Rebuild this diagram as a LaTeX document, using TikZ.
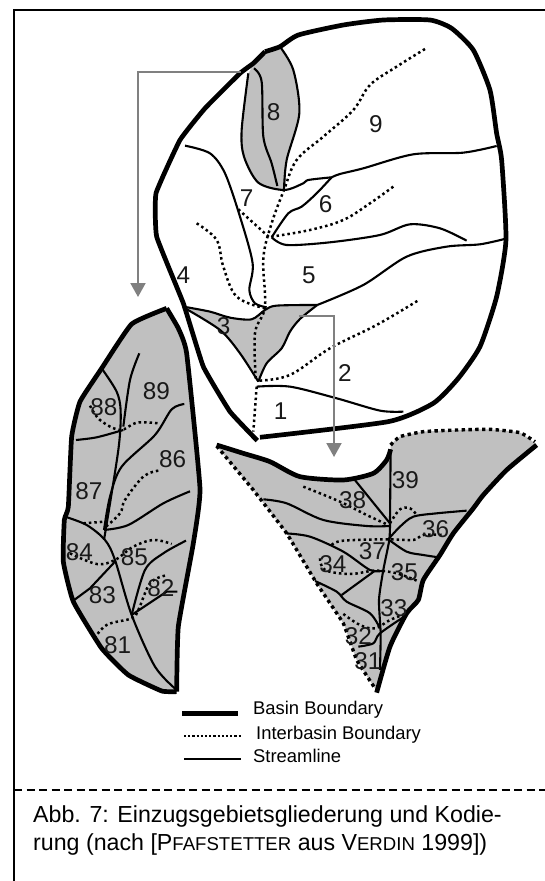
\documentclass[tikz,border=0pt]{standalone}
\usepackage{fontspec}
\setmainfont{Liberation Sans}
\usetikzlibrary{arrows.meta}
\definecolor{basingray}{RGB}{192,192,192}
\definecolor{arrowgray}{RGB}{128,128,128}
\tikzset{
  basinline/.style={line width=4.7pt,line join=round},
  interline/.style={line width=2.5pt,dash pattern=on 2.5pt off 3pt},
  streamline/.style={line width=2.1pt,line join=round},
  boundline/.style={line width=3.4pt,dash pattern=on 3.4pt off 3.4pt},
  basinfill/.style={fill=basingray,draw=none},
  flowarrow/.style={line width=2pt,arrowgray,-{Triangle[length=14pt,width=15pt]}},
  codelabel/.style={font=\fontsize{24.3}{25}\selectfont,text=black!90,inner sep=0pt},
  legendlabel/.style={font=\fontsize{18.4}{20}\selectfont,anchor=base west,inner sep=0pt},
  captionline/.style={font=\fontsize{23.2}{28}\selectfont,anchor=base west,inner sep=0pt},
}
\newcommand{\capsmall}[1]{{\fontsize{18.6}{28}\selectfont #1}}
\begin{document}
\begin{tikzpicture}[x=1pt,y=-1pt]
\useasboundingbox (0,0) rectangle (545,881);
\fill[white] (0,0) rectangle (545,881);

% Frame and caption
\draw[line width=2.4pt] (14,881) -- (14,10) -- (545,10);
\draw[line width=1.2pt,dash pattern=on 8pt off 4.5pt] (14,790) -- (545,790);
\node[captionline] (caption1) at (33,822) {Abb. 7: Einzugsgebietsgliederung und Kodie-};
\node[captionline] (caption2) at (33,850) {rung (nach [P\capsmall{FAFSTETTER} aus V\capsmall{ERDIN} 1999])};

% Main basin
\begin{scope}[shift={(130,20)},x=0.3333pt,y=-0.3333pt]
\fill[basinfill] plot[smooth,tension=0.4] coordinates {(370,135) (405,95) (450,80) (490,150) (508,280) (470,420) (462,510) (385,488) (342,410) (335,330) (355,160)} -- cycle;
\fill[basinfill] (165,862) -- (240,875) -- (300,893) -- (365,898) -- (405,870) -- (440,857) -- (562,855) -- (510,897) -- (480,935) -- (455,985) -- (410,1030) -- (385,1085) -- (330,1000) -- (270,930) -- cycle;
% outline
\draw[basinline] plot[smooth,tension=0.35] coordinates {(390,1252) (775,1205) (910,1150) (985,1075) (1050,980) (1100,830) (1128,660) (1115,420) (1100,340) (1080,210) (1030,90) (965,25) (900,0) (760,0) (640,15) (505,45) (450,80) (405,95)};
\draw[basinline] plot[smooth,tension=0.2] coordinates {(405,95) (370,130) (330,160) (225,265) (150,360) (78,520) (80,650) (160,850) (220,1040) (300,1175) (382,1262)};
% streamlines
\draw[streamline] plot[smooth,tension=0.5] coordinates {(450,80) (490,150) (508,280) (470,420) (462,510)};
\draw[streamline] plot[smooth,tension=0.5] coordinates {(355,160) (335,330) (342,410) (385,488) (462,510) (520,490) (535,480) (605,472)};
\draw[streamline] plot[smooth,tension=0.5] coordinates {(372,145) (395,185) (400,350) (425,430) (442,498)};
\draw[streamline] plot[smooth,tension=0.5] coordinates {(605,472) (630,462) (700,445) (850,403) (1000,398) (1100,378)};
\draw[streamline] plot[smooth,tension=0.5] coordinates {(605,472) (560,520) (515,560) (475,580) (425,652)};
\draw[streamline] plot[smooth,tension=0.5] coordinates {(425,652) (470,675) (600,667) (750,645) (840,613) (930,625) (1010,662)};
\draw[streamline] plot[smooth,tension=0.5] coordinates {(165,377) (240,400) (285,460) (330,590) (368,730) (358,810) (375,850) (410,862)};
\draw[streamline] plot[smooth,tension=0.5] coordinates {(160,860) (240,875) (300,893) (365,898) (405,870) (440,857) (562,855)};
\draw[streamline] plot[smooth,tension=0.5] coordinates {(562,855) (700,795) (830,710) (950,680) (1050,673) (1128,656)};
\draw[streamline] plot[smooth,tension=0.5] coordinates {(160,862) (270,930) (330,1000) (385,1085)};
\draw[streamline] plot[smooth,tension=0.5] coordinates {(562,855) (510,897) (480,935) (455,985) (410,1030) (385,1085)};
\draw[streamline] plot[smooth,tension=0.5] coordinates {(380,1100) (480,1100) (620,1135) (750,1172) (820,1175)};
% interbasin lines
\draw[interline] plot[smooth,tension=0.6] coordinates {(885,87) (800,140) (720,195) (670,270) (580,350) (500,420) (462,510) (425,610) (400,715) (405,860) (375,940) (378,1085)};
\draw[interline] plot[smooth,tension=0.5] coordinates {(380,1100) (370,1235)};
\draw[interline] plot[smooth,tension=0.6] coordinates {(790,500) (720,550) (640,600) (540,630) (425,650)};
\draw[interline] (325,568) -- (418,652);
\draw[interline] plot[smooth,tension=0.6] coordinates {(200,610) (260,660) (280,740) (320,830) (405,865)};
\draw[interline] plot[smooth,tension=0.6] coordinates {(862,843) (740,915) (600,985) (480,1065) (385,1082)};
% basin numbers
\node[codelabel] (n8) at (431,275) {8};
\node[codelabel] (n9) at (738,311) {9};
\node[codelabel] (n7) at (350,534) {7};
\node[codelabel] (n6) at (587,553) {6};
\node[codelabel] (n5) at (537,765) {5};
\node[codelabel] (n4) at (160,765) {4};
\node[codelabel] (n3) at (281,917) {3};
\node[codelabel] (n2) at (645,1058) {2};
\node[codelabel] (n1) at (452,1175) {1};
\end{scope}

% Arrows to the detail basins
\coordinate (from8) at (240.5,71.5);
\coordinate (bend8) at (138,71.5);
\coordinate (to8) at (138,297);
\draw[flowarrow] (from8) -- (bend8) -- (to8);
\coordinate (from3) at (299,316);
\coordinate (bend3) at (334,316);
\coordinate (to3) at (334,457);
\draw[flowarrow] (from3) -- (bend3) -- (to3);

% Detail of basin 8
\begin{scope}[shift={(30,290)},x=0.3333pt,y=-0.3333pt]
\fill[basinfill] plot[smooth,tension=0.25] coordinates {(440,1205) (395,1203) (295,1155) (215,1075) (130,935) (100,815) (103,690) (115,650) (125,440) (150,335) (215,235) (305,102) (410,55)} -- plot[smooth,tension=0.25] coordinates {(410,55) (445,115) (470,190) (510,595) (490,760) (445,1010) (440,1205)} -- cycle;
\draw[basinline] plot[smooth,tension=0.25] coordinates {(440,1205) (395,1203) (295,1155) (215,1075) (130,935) (100,815) (103,690) (115,650) (125,440) (150,335) (215,235) (305,102) (410,55)};
\draw[basinline] plot[smooth,tension=0.25] coordinates {(410,55) (445,115) (470,190) (510,595) (490,760) (445,1010) (440,1205)};
% streamlines
\draw[streamline] plot[smooth,tension=0.5] coordinates {(215,235) (260,305) (272,365) (265,480) (222,750)};
\draw[streamline] plot[smooth,tension=0.5] coordinates {(328,190) (300,270) (280,410)};
\draw[streamline] plot[smooth,tension=0.5] coordinates {(138,450) (200,442) (280,420)};
\draw[streamline] plot[smooth,tension=0.5] coordinates {(463,342) (425,358) (375,435) (275,530) (240,620) (222,720)};
\draw[streamline] plot[smooth,tension=0.5] coordinates {(222,720) (295,705) (400,640) (480,604)};
\draw[streamline] plot[smooth,tension=0.5] coordinates {(105,680) (170,705) (225,750) (255,810) (305,975) (375,1130) (440,1200)};
\draw[streamline] (255,815) -- (180,895) -- (130,932);
\draw[streamline] plot[smooth,tension=0.5] coordinates {(468,752) (400,790) (345,840) (305,975)};
\draw[streamline] (305,975) -- (410,905) -- (442,905);
% interbasin lines
\draw[interline] plot[smooth,tension=0.6] coordinates {(180,347) (210,390) (270,420) (320,398) (385,400)};
\draw[interline] plot[smooth,tension=0.6] coordinates {(385,542) (340,560) (285,630) (270,670) (222,715)};
\draw[interline] (160,700) -- (225,695);
\draw[interline] plot[smooth,tension=0.6] coordinates {(120,790) (200,822) (255,810) (310,770) (370,750) (425,762)};
\draw[interline] plot[smooth,tension=0.6] coordinates {(405,857) (360,880) (325,960) (305,985) (230,1005) (190,1050)};
% basin numbers
\node[codelabel] (n89) at (379,302) {89};
\node[codelabel] (n88) at (222,352) {88};
\node[codelabel] (n86) at (428,506) {86};
\node[codelabel] (n87) at (177,602) {87};
\node[codelabel] (n84) at (148,786) {84};
\node[codelabel] (n85) at (313,800) {85};
\node[codelabel] (n82) at (393,893) {82};
\node[codelabel] (n83) at (217,916) {83};
\node[codelabel] (n81) at (263,1064) {81};
\end{scope}

% Detail of basin 3
\begin{scope}[shift={(210,420)},x=0.3333pt,y=-0.3333pt]
\fill[basinfill] plot[smooth,tension=0.4] coordinates {(20,75) (100,100) (180,125) (270,170) (400,180) (490,160) (530,120) (542,88)} -- plot[smooth,tension=0.3] coordinates {(542,75) (570,50) (640,35) (740,30) (840,28) (930,38) (980,75)} -- plot[smooth,tension=0.35] coordinates {(980,75) (890,150) (820,225) (790,265) (730,340) (690,405) (640,480) (625,540) (590,580) (540,680) (500,818)} -- plot[smooth,tension=0.1] coordinates {(495,805) (440,720) (400,610) (320,490) (230,340) (130,210) (20,78)} -- cycle;
\draw[basinline] plot[smooth,tension=0.4] coordinates {(20,75) (100,100) (180,125) (270,170) (400,180) (490,160) (530,120) (542,88)};
\draw[basinline] plot[smooth,tension=0.35] coordinates {(980,75) (890,150) (820,225) (790,265) (730,340) (690,405) (640,480) (625,540) (590,580) (540,680) (500,818)};
\draw[boundline] plot[smooth,tension=0.3] coordinates {(542,75) (570,50) (640,35) (740,30) (840,28) (930,38) (975,65)};
\draw[boundline] plot[smooth,tension=0.1] coordinates {(20,78) (130,210) (230,340) (320,490) (400,610) (440,720) (495,805)};
% streamlines
\draw[streamline] (542,88) -- (540,310);
\draw[streamline] plot[smooth,tension=0.4] coordinates {(540,310) (538,360) (520,450) (507,540) (512,640) (510,750)};
\draw[streamline] (433,178) -- (540,310);
\draw[streamline] plot[smooth,tension=0.5] coordinates {(160,238) (230,250) (340,300) (470,318) (540,318)};
\draw[streamline] plot[smooth,tension=0.5] coordinates {(225,340) (300,350) (400,395) (480,450) (520,452)};
\draw[streamline] plot[smooth,tension=0.5] coordinates {(535,358) (570,320) (610,290) (680,280) (770,272)};
\draw[streamline] plot[smooth,tension=0.5] coordinates {(535,358) (590,395) (640,405) (685,412)};
\draw[streamline] (495,452) -- (395,525);
\draw[streamline] plot[smooth,tension=0.5] coordinates {(315,483) (380,515) (410,545) (480,580) (510,625)};
\draw[streamline] plot[smooth,tension=0.5] coordinates {(590,585) (510,640) (490,670) (445,680)};
% interbasin lines
\draw[interline] plot[smooth,tension=0.6] coordinates {(280,200) (390,245) (470,285) (535,315)};
\draw[interline] plot[smooth,tension=0.6] coordinates {(540,310) (570,268) (600,265) (620,285)};
\draw[interline] plot[smooth,tension=0.6] coordinates {(365,375) (400,362) (535,358) (610,360) (640,345) (700,345)};
\draw[interline] plot[smooth,tension=0.6] coordinates {(330,415) (345,450) (420,462) (495,452) (560,460) (620,482)};
\draw[interline] plot[smooth,tension=0.6] coordinates {(400,582) (450,615) (495,625) (540,600) (590,580)};
% basin numbers
\node[codelabel] (n39) at (586,180) {39};
\node[codelabel] (n38) at (428,241) {38};
\node[codelabel] (n36) at (677,327) {36};
\node[codelabel] (n37) at (487,392) {37};
\node[codelabel] (n34) at (369,431) {34};
\node[codelabel] (n35) at (583,455) {35};
\node[codelabel] (n33) at (552,565) {33};
\node[codelabel] (n32) at (445,648) {32};
\node[codelabel] (n31) at (474,722) {31};
\end{scope}

% Legend
\coordinate (basinA) at (182,713.5);
\coordinate (basinB) at (238,713.5);
\draw[basinline,line width=5.8pt] (basinA) -- (basinB);
\node[legendlabel] (basinText) at (253,714) {Basin Boundary};
\coordinate (interA) at (184,736);
\coordinate (interB) at (240.5,736);
\draw[line width=2.2pt,dash pattern=on 2.2pt off 2pt] (interA) -- (interB);
\node[legendlabel] (interText) at (256,739) {Interbasin Boundary};
\coordinate (streamA) at (184,759);
\coordinate (streamB) at (240.5,759);
\draw[line width=2.2pt] (streamA) -- (streamB);
\node[legendlabel] (streamText) at (253,762.5) {Streamline};
\end{tikzpicture}
\end{document}
